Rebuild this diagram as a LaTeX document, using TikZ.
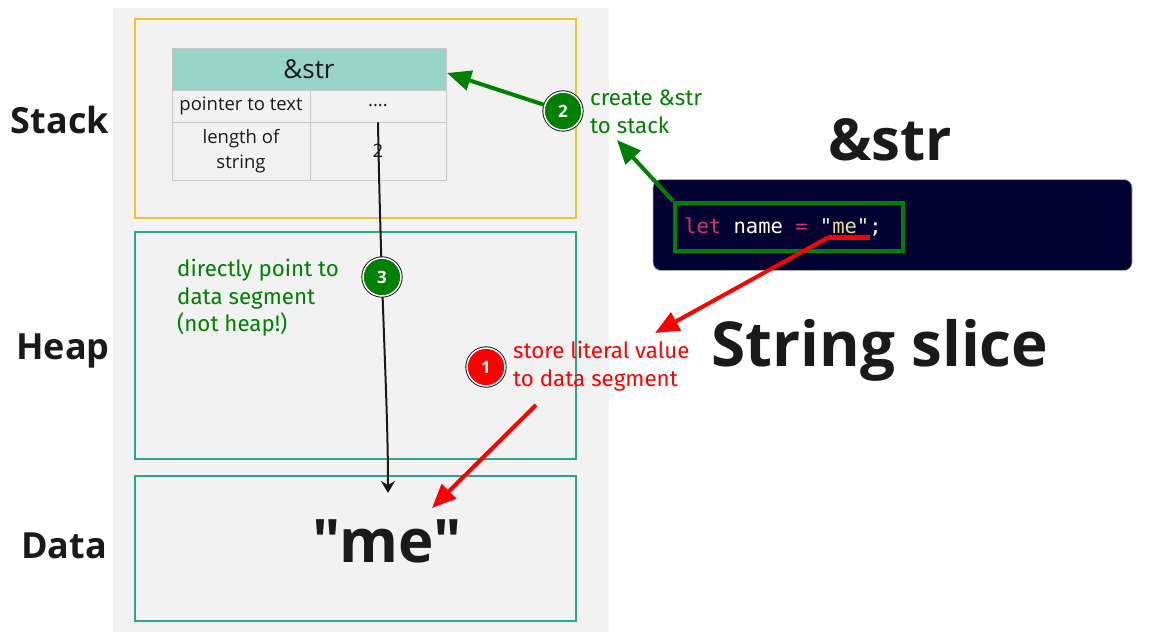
\documentclass[tikz,border=0pt]{standalone}
\usepackage{fontspec}
\setmainfont{Open Sans}
\newfontfamily\mefont{Open Sans}
\newfontfamily\annfont{Fira Sans}
\newfontfamily\codefont{DejaVu Sans Mono}
\usetikzlibrary{arrows.meta}
\definecolor{panelgray}{HTML}{F2F2F2}
\definecolor{stackyellow}{HTML}{F2C42C}
\definecolor{segteal}{HTML}{2BA68A}
\definecolor{headteal}{HTML}{97D5C8}
\definecolor{cellline}{HTML}{C8C8C8}
\definecolor{anngreen}{HTML}{008000}
\definecolor{annred}{HTML}{FF0000}
\definecolor{codebg}{HTML}{020030}
\definecolor{kwpink}{HTML}{D6336C}
\definecolor{strylw}{HTML}{E4DA94}
\definecolor{txtdark}{HTML}{1A1A1A}
\tikzset{
  x=1pt, y=-1pt,
  seglabel/.style={font=\fontsize{36}{40}\selectfont\bfseries, text=txtdark},
  segbox/.style={draw=segteal, line width=2pt},
  cell/.style={draw=cellline, line width=0.8pt, fill=panelgray, inner sep=0pt, text=txtdark, align=center, font=\fontsize{18.5}{25}\selectfont},
  stepdot/.style={circle, minimum size=38pt, inner sep=0pt, text=white, font=\fontsize{17}{17}\selectfont\bfseries,
    draw=white, line width=1.5pt, preaction={draw=black, line width=3.2pt}},
  ann/.style={font=\annfont\fontsize{22.3}{27.5}\selectfont, align=left, inner sep=0pt, anchor=north west},
  bigarrow/.style={line width=4pt, -{Triangle[length=24pt,width=20pt]}},
  heading/.style={font=\bfseries, text=txtdark},
}
\begin{document}
\begin{tikzpicture}
\useasboundingbox (0,0) rectangle (1149,635);
\fill[white] (0,0) rectangle (1149,635);
% panel
\fill[panelgray] (113,8) rectangle (609,632);
% segments
\node[draw=stackyellow, line width=2pt, minimum width=441pt, minimum height=199pt, inner sep=0pt] (stack) at (355.5,118.5) {};
\node[segbox, minimum width=441pt, minimum height=227pt, inner sep=0pt] (heap) at (355.5,345.5) {};
\node[segbox, minimum width=441pt, minimum height=145pt, inner sep=0pt] (data) at (355.5,548.5) {};
% labels
\node[seglabel] (lstack) at (60,120) {Stack};
\node[seglabel] (lheap) at (63,351) {Heap};
\node[seglabel] (ldata) at (64,546) {Data};
% table
\node[cell, fill=headteal, minimum width=274pt, minimum height=42pt, font=\fontsize{26}{26}\selectfont] (hdr) at (309,69) {\&str};
\node[cell, minimum width=138pt, minimum height=32pt] (c11) at (241,106) {pointer to text};
\node[cell, minimum width=136pt, minimum height=32pt] (c12) at (378,106) {....};
\node[cell, minimum width=138pt, minimum height=58pt] (c21) at (241,151) {length of\\string};
\node[cell, minimum width=136pt, minimum height=58pt] (c22) at (378,151) {2};
% big "me"
\node[font=\mefont\fontsize{60}{60}\selectfont\bfseries, text=txtdark] (me) at (387,541) {"me"};
\coordinate (meTop) at (388,493);
% black pointer arrow
\draw[line width=2pt, txtdark, -{Stealth[length=12pt,width=14pt,inset=4pt]}] (c12.south) .. controls (381,300) and (388,400) .. (meTop);
% step 3
\node[stepdot, fill=anngreen] (s3) at (382,277) {3};
\node[ann, text=anngreen] (t3) at (177,259) {directly point to\\data segment\\(not heap!)};
% code box
\node[fill=codebg, draw=gray!60, line width=0.6pt, rounded corners=8pt, minimum width=479pt, minimum height=91pt, inner sep=0pt] (code) at (892.5,225) {};
\node[draw=anngreen, line width=4pt, minimum width=228pt, minimum height=48pt, inner sep=0pt] (grect) at (789,227) {};
\node[anchor=base west, inner sep=0pt, font=\codefont\fontsize{20.5}{20.5}\selectfont] (codetxt) at (684,233)
  {\textcolor{kwpink}{let} \textcolor{white}{name} \textcolor{kwpink}{=} \textcolor{white!85!gray}{"}\textcolor{strylw}{me}\textcolor{white!85!gray}{"}\textcolor{white};};
\coordinate (ulA) at (828,237.5);
\coordinate (ulB) at (870,237.5);
\draw[annred, line width=5pt] (ulA) -- (ulB);
% headings
\node[heading, font=\fontsize{58}{58}\selectfont\bfseries] (hstr) at (890,140) {\&str};
\node[heading, font=\fontsize{62}{62}\selectfont\bfseries] (hslice) at (880,350) {String slice};
% step 2
\node[stepdot, fill=anngreen] (s2) at (563,111) {2};
\node[ann, text=anngreen] (t2) at (590,90) {create \&str\\to stack};
\coordinate (hdrR) at (447,73);
\coordinate (t2arr) at (617,140);
\draw[bigarrow, anngreen] (s2) -- (hdrR);
\draw[bigarrow, anngreen] (grect.north west) -- (t2arr);
% step 1
\node[stepdot, fill=annred] (s1) at (486,367) {1};
\node[ann, text=annred] (t1) at (513,341) {store literal value\\to data segment};
\coordinate (r1s) at (536,405);
\coordinate (r1e) at (432,508);
\coordinate (r2e) at (655,333);
\draw[bigarrow, annred] (r1s) -- (r1e);
\draw[bigarrow, annred] (ulA) -- (r2e);
\end{tikzpicture}
\end{document}
